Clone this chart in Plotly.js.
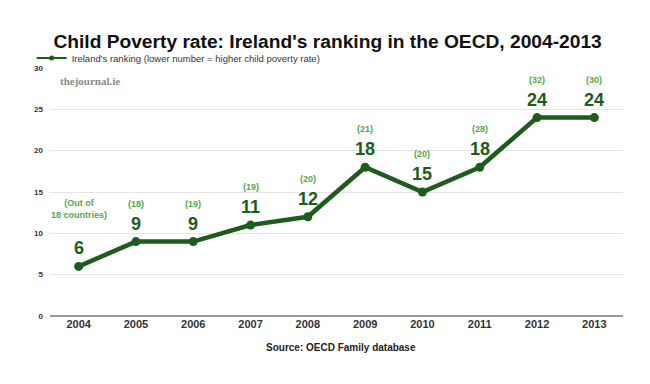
<!DOCTYPE html>
<html>
<head>
<meta charset="utf-8">
<script src="https://cdn.plot.ly/plotly-3.0.1.min.js"></script>
<style>html,body{margin:0;padding:0;background:#fff;}#chart{width:650px;height:384px;}</style>
</head>
<body>
<div id="chart"></div>
<script>
// Data
const years = ['2004','2005','2006','2007','2008','2009','2010','2011','2012','2013'];
const ranking = [6, 9, 9, 11, 12, 18, 15, 18, 24, 24];
const countries = ['(Out of<br>18 countries)', '(18)', '(19)', '(19)', '(20)', '(21)', '(20)', '(28)', '(32)', '(30)'];
const yTicks = [0, 5, 10, 15, 20, 25, 30];
const seriesName = "Ireland's ranking (lower number = higher child poverty rate)";

const darkGreen = '#1d5c1d';
const lightGreen = '#55a84b';
const FONT = 'Liberation Sans, Arial, sans-serif';

const trace = {
  x: years,
  y: ranking,
  type: 'scatter',
  mode: 'lines+markers',
  name: seriesName,
  showlegend: false,
  line: {color: darkGreen, width: 4.5},
  marker: {color: darkGreen, size: 9},
  hoverinfo: 'skip'
};
// legend-only entry with a thin line, as in the reference legend
const legendTrace = {
  x: [null], y: [null],
  type: 'scatter', mode: 'lines+markers',
  name: seriesName,
  line: {color: darkGreen, width: 2},
  marker: {color: darkGreen, size: 5},
  hoverinfo: 'skip'
};

const annotations = [];
years.forEach((yr, i) => {
  annotations.push({
    x: i, y: ranking[i], xref: 'x', yref: 'y',
    text: '<b>' + ranking[i] + '</b>', showarrow: false,
    yshift: 18,
    font: {family: FONT, size: 18, color: darkGreen}
  });
  annotations.push({
    x: i, y: ranking[i], xref: 'x', yref: 'y',
    text: '<b>' + countries[i] + '</b>', showarrow: false,
    yshift: i === 0 ? 57 : 38,
    font: {family: FONT, size: 9, color: lightGreen}
  });
});

annotations.push({
  xref: 'paper', yref: 'paper', x: 0.014, y: 0.948, xanchor: 'left', yanchor: 'middle',
  text: '<b>thejournal.ie</b>', showarrow: false,
  font: {family: 'Liberation Serif, DejaVu Serif, serif', size: 11, color: '#8a8a8a'}
});
annotations.push({
  xref: 'paper', yref: 'paper', x: 0.508, y: -0.129, xanchor: 'center', yanchor: 'middle',
  text: '<b>Source: OECD Family database</b>', showarrow: false,
  font: {family: FONT, size: 10, color: '#222'}
});

const layout = {
  width: 650, height: 384,
  margin: {l: 50, r: 27, t: 68, b: 68},
  paper_bgcolor: '#fff', plot_bgcolor: '#fff',
  font: {family: FONT, color: '#222'},
  title: {
    text: "<b>Child Poverty rate: Ireland's ranking in the OECD, 2004-2013</b>",
    x: 0.504, xanchor: 'center', y: 0.893, yanchor: 'middle',
    font: {family: FONT, size: 19.2, color: '#111'}
  },
  showlegend: true,
  legend: {
    orientation: 'h', x: -0.032, y: 1.04, xanchor: 'left', yanchor: 'middle',
    font: {size: 9.5, color: '#333'}, itemwidth: 30, bgcolor: 'rgba(0,0,0,0)'
  },
  xaxis: {
    type: 'category', range: [-0.5, 9.5],
    showgrid: false, zeroline: false,
    showline: false, ticks: '',
    tickfont: {size: 11, color: '#333', weight: 'bold'},
    fixedrange: true
  },
  yaxis: {
    range: [0, 30], tickvals: yTicks,
    showgrid: true, gridcolor: '#e4e4e4', gridwidth: 1,
    zeroline: true, zerolinecolor: '#999', zerolinewidth: 1.2,
    showline: false, ticks: '', ticklabelstandoff: 6,
    tickfont: {size: 8, color: '#333', weight: 'bold'},
    fixedrange: true
  },
  annotations: annotations
};

Plotly.newPlot('chart', [trace, legendTrace], layout, {staticPlot: true, displayModeBar: false});
</script>
</body>
</html>
